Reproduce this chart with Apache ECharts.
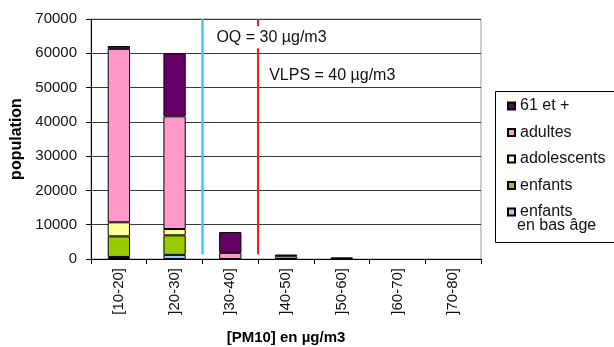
<!DOCTYPE html>
<html>
<head>
<meta charset="utf-8">
<script src="https://cdn.jsdelivr.net/npm/echarts@6/dist/echarts.min.js"></script>
<style>
  html, body { margin: 0; padding: 0; background: #fff; }
  #chart { width: 614px; height: 347px; }
</style>
</head>
<body>
<div id="chart"></div>
<script>
// PM10 concentration classes (µg/m3)
const categories = ['[10-20]', ']20-30]', ']30-40]', ']40-50]', ']50-60]', ']60-70]', ']70-80]'];

// Exposed population per age group, stacked bottom to top
const enfantsBasAge = [600, 1200, 0, 0, 0, 0, 0];
const enfants       = [6000, 5700, 0, 0, 0, 0, 0];
const adolescents   = [4100, 1850, 0, 0, 0, 0, 0];
const adultes       = [50600, 32850, 1800, 800, 150, 0, 0];
const seniors       = [800, 18400, 6050, 500, 250, 0, 0];

// Reference thresholds (µg/m3)
const oqValue = 30;
const vlpsValue = 40;

const yTicks = { min: 0, max: 70000, interval: 10000 };

const font = '"Liberation Sans", Arial, sans-serif';

const groups = [
  { name: 'enfants en bas âge', data: enfantsBasAge, color: '#99ccff' },
  { name: 'enfants', data: enfants, color: '#99cc00' },
  { name: 'adolescents', data: adolescents, color: '#ffff99' },
  { name: 'adultes', data: adultes, color: '#ff99cc' },
  { name: '61 et +', data: seniors, color: '#660066' }
];

// empty classes are left out so no zero-height outline is drawn
const barSeries = groups.map(g => ({
  name: g.name,
  type: 'bar',
  stack: 'pop',
  barWidth: '40%',
  data: g.data.map(v => (v === 0 ? '-' : v)),
  itemStyle: { color: g.color, borderColor: '#000', borderWidth: 1 }
}));

const lineBottom = 1400;

const thresholdSeries = {
  name: 'seuils',
  type: 'line',
  xAxisIndex: 1,
  yAxisIndex: 0,
  data: [],
  silent: true,
  markLine: {
    symbol: ['none', 'none'],
    silent: true,
    animation: false,
    label: { show: false },
    data: [
      [{ coord: [oqValue, lineBottom], lineStyle: { color: '#33ccff', width: 2.5, type: 'solid' } },
       { coord: [oqValue, yTicks.max] }],
      [{ coord: [vlpsValue, lineBottom], lineStyle: { color: '#ff1a1a', width: 2, type: 'solid' } },
       { coord: [vlpsValue, yTicks.max] }]
    ]
  },
  markPoint: {
    symbol: 'rect',
    symbolSize: 0,
    silent: true,
    animation: false,
    z: 10,
    label: {
      show: true,
      position: 'right',
      color: '#111',
      fontFamily: font,
      fontSize: 16
    },
    data: [
      { coord: [oqValue, 64700], label: { formatter: 'OQ = ' + oqValue + ' µg/m3', distance: 12,
        backgroundColor: '#fff', padding: [3, 2, 3, 2] } },
      { coord: [vlpsValue, 53450], label: { formatter: 'VLPS = ' + vlpsValue + ' µg/m3', distance: 11 } }
    ]
  }
};

const chart = echarts.init(document.getElementById('chart'), null, { renderer: 'canvas' });

chart.setOption({
  animation: false,
  backgroundColor: '#fff',
  textStyle: { fontFamily: font },
  grid: {
    left: 91, right: 133, top: 19, bottom: 88,
    outerBoundsMode: 'none',
    containLabel: false,
    show: true, borderColor: '#999', borderWidth: 1, backgroundColor: 'transparent'
  },
  legend: {
    orient: 'vertical',
    left: 495,
    top: 91,
    itemWidth: 7,
    itemHeight: 7,
    itemGap: 10.5,
    padding: [7, 10, 24, 12],
    icon: 'rect',
    data: ['61 et +', 'adultes', 'adolescents', 'enfants', 'enfants en bas âge'],
    formatter: n => (n === 'enfants en bas âge' ? 'enfants' : n),
    textStyle: { fontFamily: font, fontSize: 16, color: '#111' }
  },
  graphic: [
    {
      // legend frame, open on the right where it runs off the canvas
      type: 'polyline',
      shape: { points: [[660, 91.5], [495.5, 91.5], [495.5, 242.5], [660, 242.5]] },
      style: { fill: 'none', stroke: '#000', lineWidth: 1 },
      z: 0
    },
    {
      type: 'text',
      left: 517,
      top: 218,
      style: { text: 'en bas âge', font: '16px ' + font, fill: '#111' }
    }
  ],
  xAxis: [
    {
      type: 'category',
      data: categories,
      name: '[PM10] en µg/m3',
      nameLocation: 'middle',
      nameGap: 71,
      nameTextStyle: { fontFamily: font, fontSize: 15, fontWeight: 'bold', color: '#000' },
      axisLine: { lineStyle: { color: '#000', width: 1 } },
      axisTick: { show: true, alignWithLabel: false, length: 5, lineStyle: { color: '#000' } },
      axisLabel: { rotate: 90, interval: 0, margin: 9, fontSize: 15, color: '#111', fontFamily: font },
      splitLine: { show: false }
    },
    {
      type: 'value',
      min: 10,
      max: 80,
      show: false
    }
  ],
  yAxis: {
    type: 'value',
    min: yTicks.min,
    max: yTicks.max,
    interval: yTicks.interval,
    name: 'population',
    nameLocation: 'middle',
    nameGap: 64,
    nameTextStyle: { fontFamily: font, fontSize: 16, fontWeight: 'bold', color: '#000' },
    axisLine: { show: true, lineStyle: { color: '#000', width: 1 } },
    axisTick: { show: true, length: 5, lineStyle: { color: '#000' } },
    axisLabel: { fontSize: 15, color: '#111', margin: 14, fontFamily: font, formatter: v => String(v) },
    splitLine: { show: true, lineStyle: { color: '#3a3a3a', width: 1 } }
  },
  series: [...barSeries, thresholdSeries]
});
</script>
</body>
</html>
